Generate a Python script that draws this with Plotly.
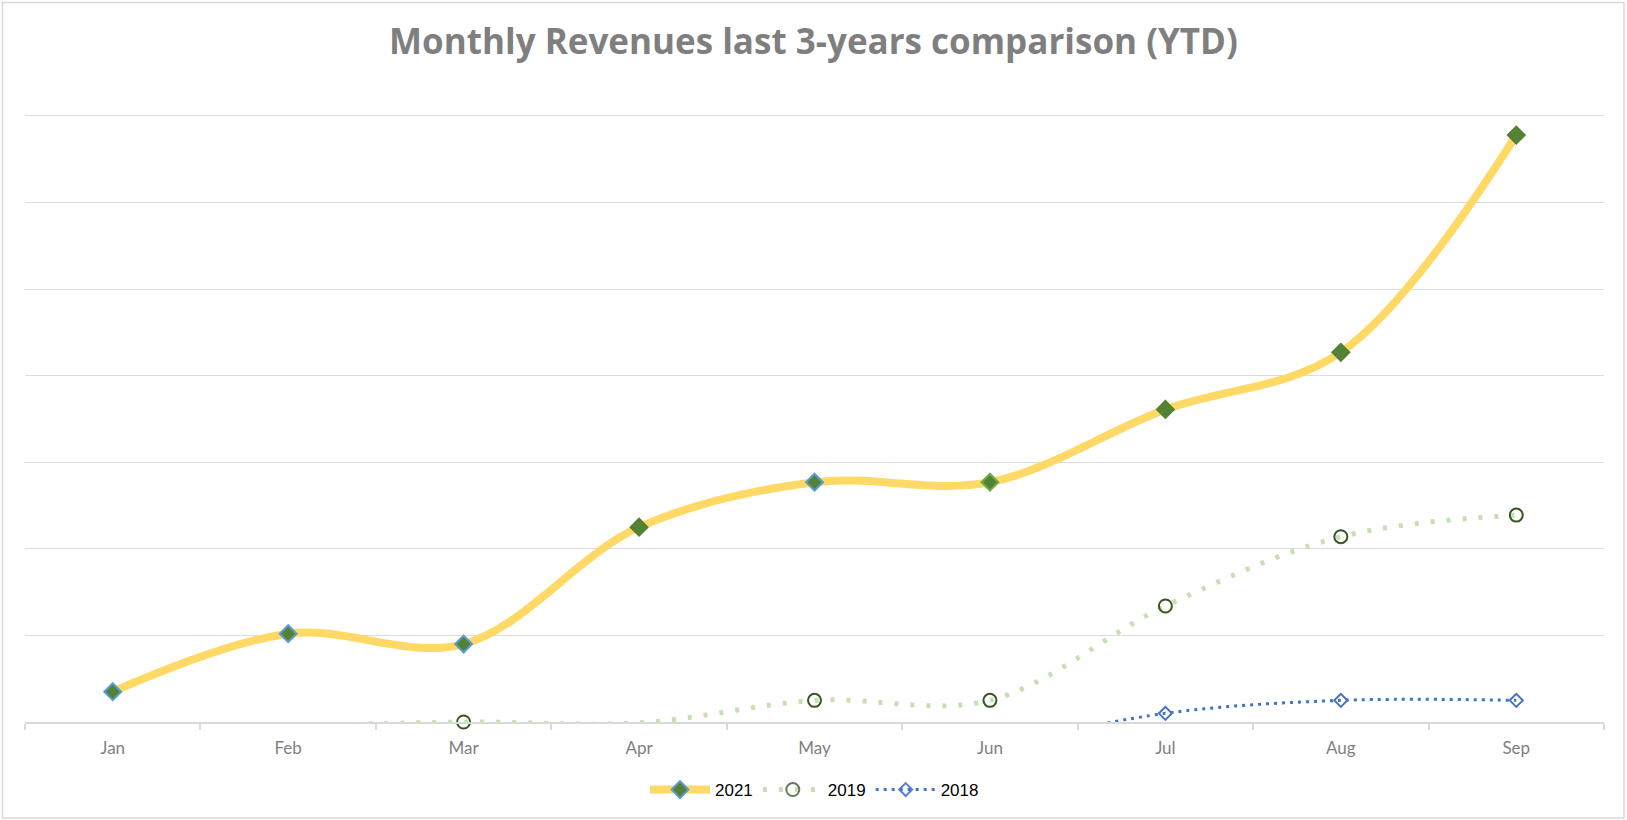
import plotly.graph_objects as go

months = ["Jan", "Feb", "Mar", "Apr", "May", "Jun", "Jul", "Aug", "Sep"]
rev_2021 = [0.35, 1.02, 0.90, 2.25, 2.77, 2.77, 3.61, 4.27, 6.78]
rev_2019 = [None, -0.05, 0.00, -0.01, 0.25, 0.25, 1.34, 2.14, 2.39]
rev_2018 = [None, None, None, None, None, -0.30, 0.10, 0.25, 0.25]
title_text = "Monthly Revenues last 3-years comparison (YTD)"

# marker outline colours for the 2021 points (style only)
outline_2021 = ["#5B9BD5", "#5B9BD5", "#5B9BD5", "#548235", "#5B9BD5",
                "#70AD47", "#548235", "#548235", "#548235"]

W, H = 1627, 820
Y_MAX = 7.15
axis_y, top_grid_y = 722, 116
unit = (axis_y - top_grid_y) / 7.0
L = 25
R = W - 1604
B = H - axis_y
T = int(round(axis_y - Y_MAX * unit))
pw, ph = W - L - R, H - T - B


def vis(vals):
    # Excel does not draw markers for points below the axis minimum
    return [0 if (v is not None and v < 0) else 1 for v in vals]


fig = go.Figure()
fig.add_trace(go.Scatter(
    x=months, y=rev_2021, name="2021", mode="lines+markers",
    line=dict(color="#FFD966", width=8, shape="spline", smoothing=1.0),
    marker=dict(symbol="diamond", size=13, color="#548235",
                line=dict(color=outline_2021, width=2)),
    cliponaxis=False,
))
fig.add_trace(go.Scatter(
    x=months, y=rev_2019, name="2019", mode="lines+markers",
    line=dict(color="#C5E0B4", width=5, shape="spline", smoothing=1.0, dash="4px,12px"),
    marker=dict(symbol="circle-open", size=13, color="#375623",
                opacity=vis(rev_2019), line=dict(width=2)),
    cliponaxis=False,
))
fig.add_trace(go.Scatter(
    x=months, y=rev_2018, name="2018", mode="lines+markers",
    line=dict(color="#4472C4", width=3, shape="spline", smoothing=1.0, dash="3px,5px"),
    marker=dict(symbol="diamond-open", size=10, color="#4472C4",
                opacity=vis(rev_2018), line=dict(width=2)),
    cliponaxis=False,
))

fig.update_layout(
    width=W, height=H,
    margin=dict(l=L, r=R, t=T, b=B),
    paper_bgcolor="white", plot_bgcolor="white",
    title=dict(text="<b>" + title_text + "</b>", x=0.5, xanchor="center",
               y=1 - 42 / H, yanchor="middle",
               font=dict(family="Open Sans", size=35, color="#7F7F7F")),
    xaxis=dict(type="category", range=[-0.5, 8.5], showgrid=False,
               showline=True, linecolor="#D9D9D9", linewidth=2,
               ticks="outside", tickson="boundaries", ticklen=6,
               tickcolor="#D9D9D9", tickwidth=2,
               tickfont=dict(family="Lato", size=17, color="#7F7F7F"),
               ticklabelstandoff=10, zeroline=False),
    yaxis=dict(range=[0, Y_MAX], dtick=1, showticklabels=False,
               gridcolor="#DCDCDC", gridwidth=1.3, zeroline=False,
               showline=False),
    legend=dict(orientation="h", x=0.5, xanchor="center",
                y=(axis_y - 790) / ph, yanchor="middle",
                font=dict(family="Liberation Sans", size=17, color="#000000"),
                itemwidth=60, bgcolor="rgba(0,0,0,0)"),
    showlegend=True,
    shapes=[dict(type="rect", xref="paper", yref="paper",
                 x0=(2.5 - L) / pw, x1=(W - 3 - L) / pw,
                 y0=-(B - 2) / ph, y1=(H - B - 2.5) / ph,
                 line=dict(color="#D9D9D9", width=1.5), layer="below")],
)

# remove the default 8px page margin so the figure fills the window exactly
fig.write_html("out.html", config={"displayModeBar": False},
               post_script="document.body.style.margin='0';")
